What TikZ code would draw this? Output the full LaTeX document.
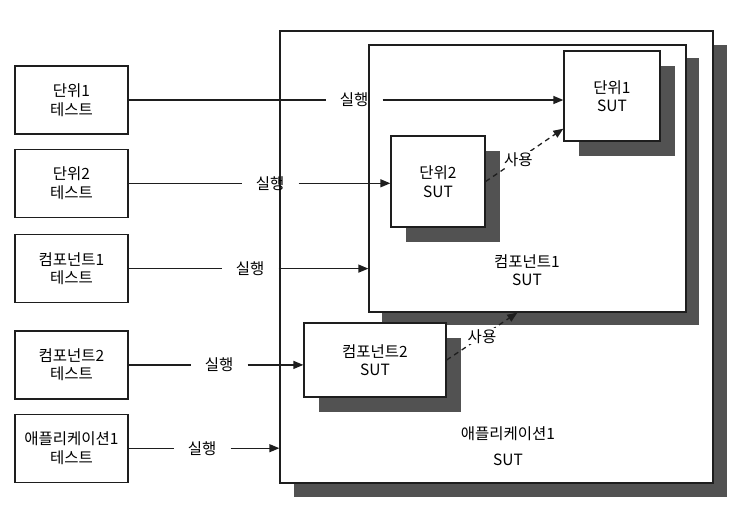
\documentclass[tikz,border=0pt]{standalone}
\usepackage{fontspec}
\setmainfont{Noto Sans CJK KR}
\usetikzlibrary{positioning,shadows,arrows.meta}
\definecolor{shadegray}{RGB}{82,82,82}
\definecolor{inkgray}{RGB}{30,30,30}

\begin{document}
\begin{tikzpicture}[x=1pt,y=-1pt,font=\fontsize{15.5}{18.5}\selectfont,
  testbox/.style={rectangle,draw=inkgray,line width=1.3pt,minimum width=113pt,minimum height=68pt,align=center},
  sutbox/.style={rectangle,draw=inkgray,fill=white,line width=1.3pt,align=center,
    drop shadow={shadow xshift=#1,shadow yshift=-#1,fill=shadegray,opacity=1}},
  sutbox/.default=15pt,
  runlbl/.style={inner xsep=14pt,inner ysep=2pt},
  runline/.style={draw=inkgray,line width=1.3pt},
  runarrow/.style={runline,-{Triangle[length=10pt,width=8pt]}},
  usearrow/.style={draw=inkgray,line width=1.3pt,dash pattern=on 5pt off 4pt,-{Triangle[length=10pt,width=8pt]}},
  uselbl/.style={fill=white,inner sep=1pt}]
  \useasboundingbox (0,0) rectangle (736,504);

  \node[sutbox=14pt,minimum width=433pt,minimum height=452pt] (app) at (496.5,257) {};
  \node[sutbox=13pt,minimum width=317pt,minimum height=267pt] (c1) at (527.5,178.5) {};
  \node[sutbox,minimum width=96pt,minimum height=90pt] (u1) at (612,96) {단위1\\SUT};
  \node[sutbox,minimum width=94pt,minimum height=91pt] (u2) at (438,181.5) {단위2\\SUT};
  \node[sutbox,minimum width=142pt,minimum height=74pt] (c2) at (375,360) {컴포넌트2\\SUT};
  \node[align=center] (c1txt) at (527,270) {컴포넌트1\\SUT};
  \node[align=center] (apptxt) at (508,446) {애플리케이션1\\[7pt]SUT};

  \node[testbox] (t1) at (71.5,100) {단위1\\테스트};
  \node[testbox,below=14pt of t1] (t2) {단위2\\테스트};
  \node[testbox,below=16pt of t2] (t3) {컴포넌트1\\테스트};
  \node[testbox,below=27pt of t3] (t4) {컴포넌트2\\테스트};
  \node[testbox,below=14pt of t4] (t5) {애플리케이션1\\테스트};

  \node[runlbl,right=197pt of t1] (r1) {실행};
  \node[runlbl,right=113pt of t2] (r2) {실행};
  \node[runlbl,right=93pt of t3] (r3) {실행};
  \node[runlbl,right=62pt of t4] (r4) {실행};
  \node[runlbl,right=45pt of t5] (r5) {실행};

  \draw[runline] (t1) -- (r1);
  \draw[runarrow] (r1) -- (r1 -| u1.west);
  \draw[runline] (t2) -- (r2);
  \draw[runarrow] (r2) -- (r2 -| u2.west);
  \draw[runline] (t3) -- (r3);
  \draw[runarrow] (r3) -- (r3 -| c1.west);
  \draw[runline] (t4) -- (r4);
  \draw[runarrow] (r4) -- (r4 -| c2.west);
  \draw[runline] (t5) -- (r5);
  \draw[runarrow] (r5) -- (r5 -| app.west);

  \draw[usearrow] (u2.east) -- node[uselbl,pos=0.42] (s1) {사용} ([yshift=13pt]u1.south west);
  \draw[usearrow] (c2.east) -- node[uselbl] (s2) {사용} ([xshift=149pt]c1.south west);
\end{tikzpicture}
\end{document}
